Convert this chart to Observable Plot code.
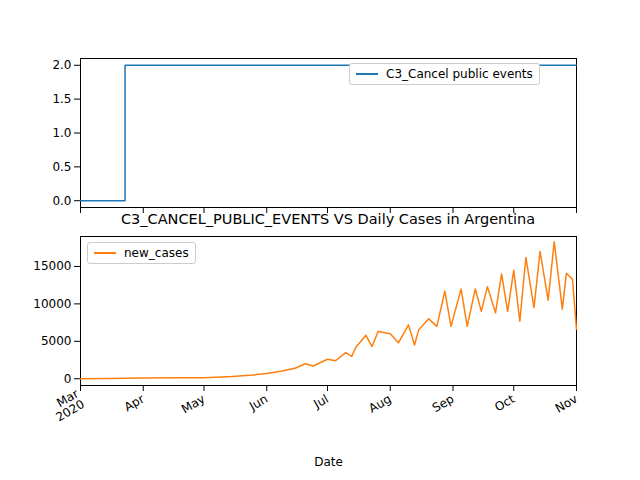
<!DOCTYPE html><html><head><meta charset="utf-8">
<script src="https://cdn.jsdelivr.net/npm/d3@7"></script>
<script src="https://cdn.jsdelivr.net/npm/@observablehq/plot@0.6"></script>
<style>body{margin:0;font-family:"DejaVu Sans",sans-serif}#c{position:relative;width:640px;height:480px}
.a{position:absolute}.lg{position:absolute;background:#fff;border:1px solid #ccc;border-radius:3px;font-size:12px;padding:3px 6px;display:flex;align-items:center;gap:8px}
.lg span.s{display:inline-block;width:22px;height:2px}</style></head><body><div id="c"></div>
<script>
const stepDates=["2020-03-01","2020-03-23","2020-03-23","2020-11-01"];
const stepValues=[0,0,2,2];
const caseDates=["2020-03-01","2020-03-15","2020-04-01","2020-04-15","2020-05-01","2020-05-15","2020-05-25","2020-06-01","2020-06-08","2020-06-15","2020-06-20","2020-06-24","2020-07-01","2020-07-05","2020-07-10","2020-07-13","2020-07-15","2020-07-20","2020-07-23","2020-07-26","2020-08-01","2020-08-05","2020-08-10","2020-08-13","2020-08-15","2020-08-20","2020-08-24","2020-08-28","2020-08-31","2020-09-05","2020-09-08","2020-09-12","2020-09-15","2020-09-18","2020-09-22","2020-09-25","2020-09-28","2020-10-01","2020-10-04","2020-10-07","2020-10-11","2020-10-14","2020-10-18","2020-10-21","2020-10-25","2020-10-27","2020-10-30","2020-11-01"];
const newCases=[0,20,100,150,150,300,500,700,1000,1400,2000,1700,2600,2400,3500,3000,4200,5800,4300,6300,6000,4800,7200,4500,6500,8000,7000,11700,7000,12000,7000,12000,9000,12300,8800,14000,9000,14500,7700,16200,9500,17000,10500,18300,9300,14100,13300,6600];
const xs={type:"utc",domain:[new Date("2020-03-01"),new Date("2020-11-01")]};
const fmt=d=>{const m=d3.utcFormat("%b")(d);return d.getUTCMonth()===2?m+"\n2020":m};
const pTop=Plot.plot({width:640,height:222,marginTop:58,marginBottom:15,marginLeft:80,marginRight:64,
 style:{fontSize:"12px",fontFamily:"DejaVu Sans"},
 x:{...xs,ticks:d3.utcMonth.every(1),tickFormat:()=>"",label:null},
 y:{domain:[-0.1,2.1],ticks:[0,0.5,1,1.5,2],tickFormat:d3.format(".1f"),label:null},
 marks:[Plot.frame(),Plot.line(stepDates.map((d,i)=>({d:new Date(d),v:stepValues[i]})),{x:"d",y:"v",stroke:"#1f77b4",strokeWidth:1.5})]});
const pBot=Plot.plot({width:640,height:258,marginTop:14,marginBottom:95,marginLeft:80,marginRight:64,
 style:{fontSize:"12px",fontFamily:"DejaVu Sans"},
 x:{...xs,ticks:d3.utcMonth.every(1),tickFormat:fmt,tickRotate:-30,label:"Date",labelAnchor:"center",labelOffset:80,labelArrow:"none"},
 y:{domain:[-900,19000],ticks:[0,5000,10000,15000],tickFormat:d=>String(d),label:null},
 marks:[Plot.frame(),Plot.line(caseDates.map((d,i)=>({d:new Date(d),v:newCases[i]})),{x:"d",y:"v",stroke:"#ff7f0e",strokeWidth:1.5})]});
const c=document.getElementById("c");
pTop.classList.add("a");pTop.style.top="0px";pTop.style.left="0px";
pBot.classList.add("a");pBot.style.top="222px";pBot.style.left="0px";
c.append(pTop,pBot);
const t=document.createElement("div");t.className="a";t.style.cssText+="top:211px;left:80px;width:496px;text-align:center;font-size:14.5px";t.textContent="C3_CANCEL_PUBLIC_EVENTS VS Daily Cases in Argentina";c.append(t);
const l1=document.createElement("div");l1.className="lg";l1.style.cssText+="top:63px;left:349px";l1.innerHTML='<span class="s" style="background:#1f77b4"></span>C3_Cancel public events';c.append(l1);
const l2=document.createElement("div");l2.className="lg";l2.style.cssText+="top:242px;left:87px";l2.innerHTML='<span class="s" style="background:#ff7f0e"></span>new_cases';c.append(l2);
</script></body></html>
